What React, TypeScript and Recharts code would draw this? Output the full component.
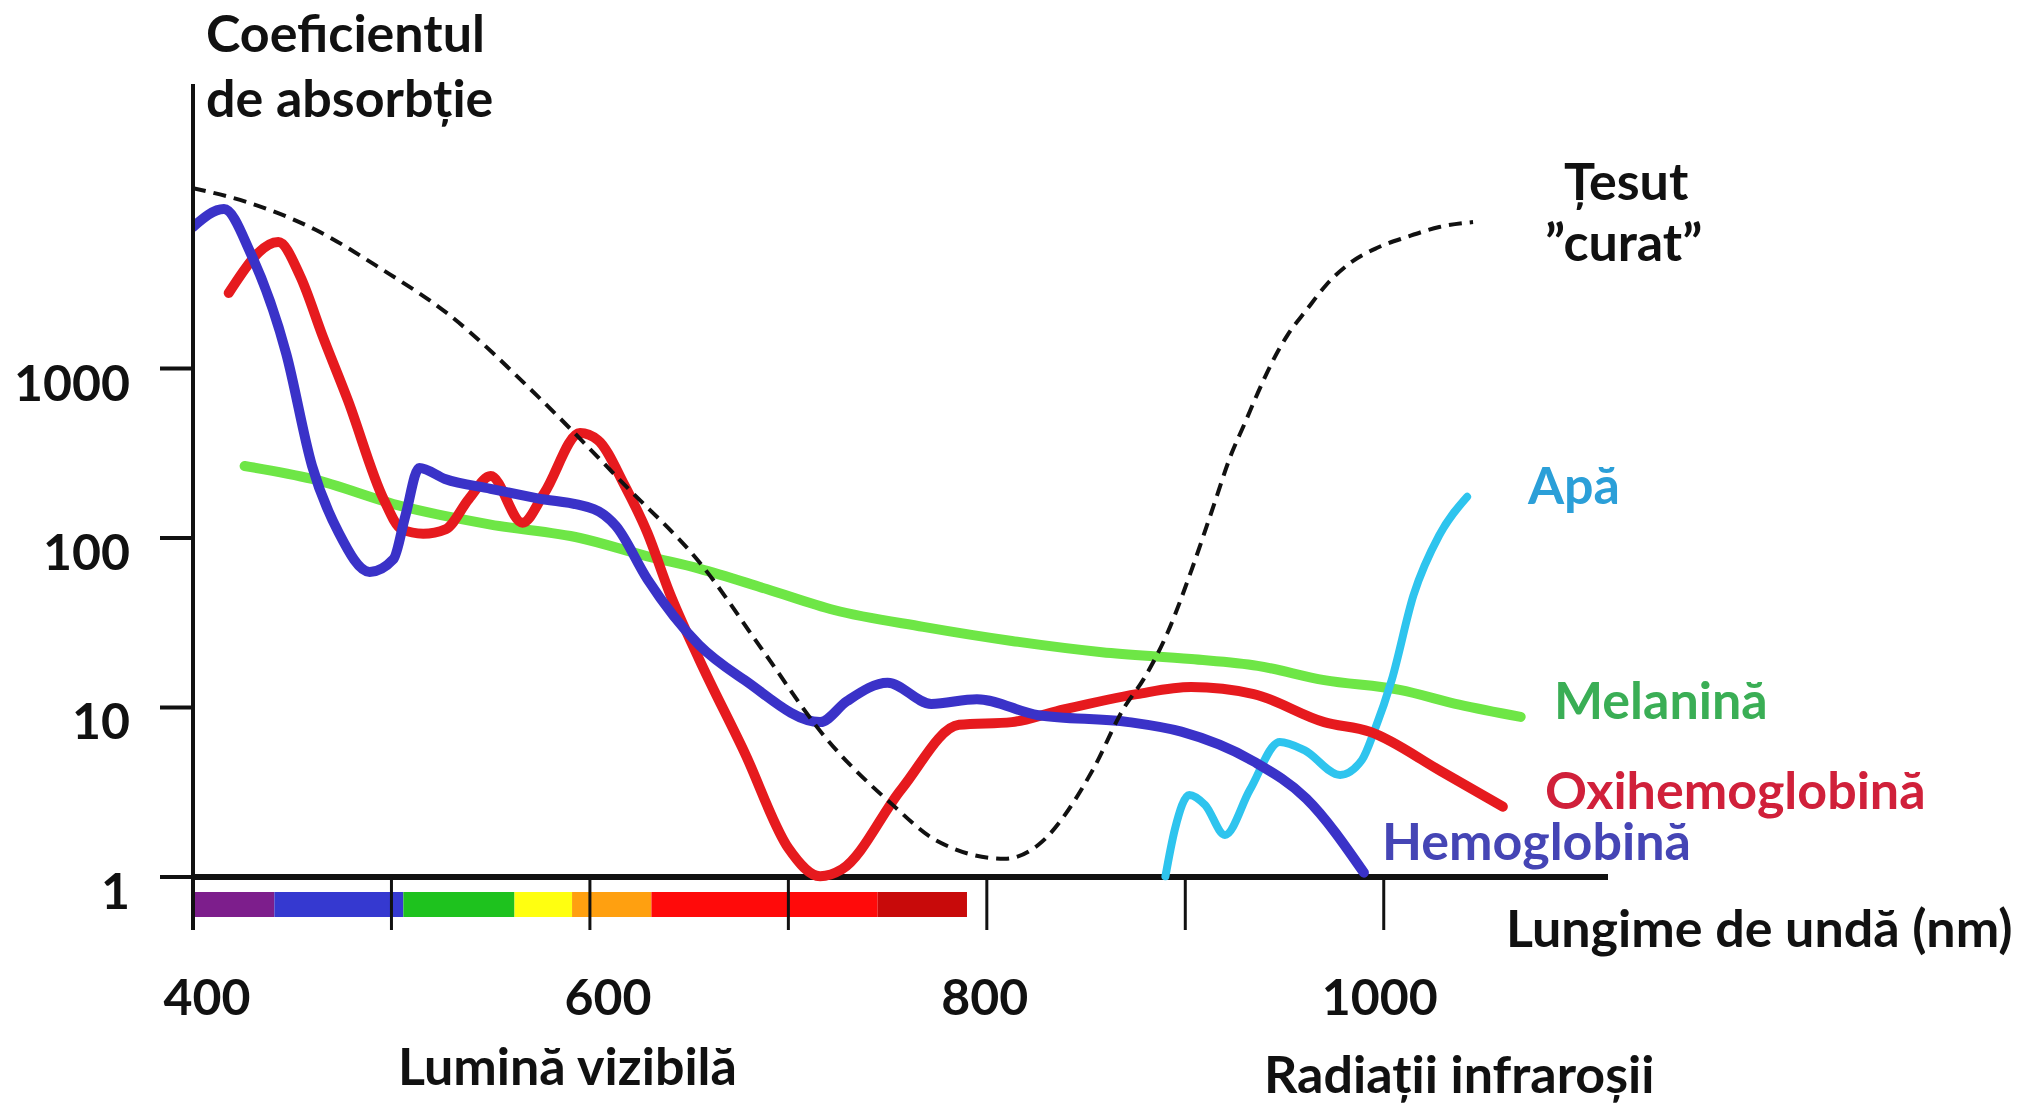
import React from 'react'
import {
  ComposedChart,
  Line,
  XAxis,
  YAxis,
  ReferenceLine,
  ReferenceArea
} from 'recharts'

// values: wavelength (nm) and absorption coefficient (log scale)
const tesutNm = [400, 427, 461, 495, 528, 574, 618, 656, 687, 718, 752, 775, 809, 826, 853, 869, 879, 891, 903, 913, 923.4, 930, 936.5, 943.6, 951.6, 961, 971, 983, 996.5, 1011.6, 1028, 1045]
const tesutVal = [11600, 9600, 6650, 3860, 2120, 680, 203, 70, 21.8, 6.8, 2.7, 1.63, 1.28, 1.55, 4.2, 9.9, 14.7, 27.5, 64, 140, 317, 476, 716, 1080, 1580, 2210, 3110, 4190, 5140, 5970, 6840, 7310]

const hemoNm = [400, 415.6, 429, 447, 460, 473.5, 489, 501, 507, 514, 527, 550, 573, 602, 613, 629, 655, 678, 716, 729.5, 750, 772, 795, 826, 871.5, 898, 934.5, 961, 990]
const hemoVal = [6840, 8730, 4800, 1220, 266, 107, 63, 75, 135, 259, 223, 195, 172, 148, 118, 57, 23.4, 14.5, 8.2, 10.9, 14, 10.5, 11.2, 9.0, 8.2, 7.2, 4.8, 2.9, 1.06]

const oxiNm = [418, 443, 454, 465.5, 478, 496, 505, 516, 527.5, 539, 550, 566, 577, 595, 604, 617.6, 629, 640, 655, 678, 700, 716, 727, 757, 786, 812.6, 835, 875.6, 903, 934.5, 970, 993, 1029, 1060]
const oxiVal = [2790, 5580, 3510, 1535, 652, 170, 113, 106, 113, 170, 232, 123, 184, 416, 378, 203, 107, 48, 19.3, 5.4, 1.48, 1.01, 1.11, 3.3, 7.9, 8.2, 9.5, 12.0, 13.2, 12.0, 8.2, 7.2, 4.2, 2.6]

const melNm = [426, 460, 505, 550, 595, 629, 655, 689, 723, 768, 812.6, 858, 903, 936.5, 970, 1008, 1038, 1069]
const melVal = [266, 223, 154, 120, 100, 78, 66, 50, 37.6, 29.9, 24.7, 21.2, 19.3, 17.6, 14.5, 12.7, 10.4, 8.8]

const apaNm = [890, 894.7, 902, 910, 920, 932.5, 947.6, 960, 978, 989, 995.5, 1004, 1015, 1028, 1042]
const apaVal = [1.01, 1.9, 3.05, 2.66, 1.77, 3.26, 6.26, 5.6, 4.0, 4.9, 7.4, 14.5, 46, 104, 175]

const xTicks = [400, 500, 600, 700, 800, 900, 1000]
const xLabels = [400, 600, 800, 1000]
const yTicks = [1, 10, 100, 1000]

// visible spectrum band edges (nm)
const spectrumEdges = [400, 441, 506, 562, 591, 631, 745, 790]
const spectrumColors = ['#7d1e8c', '#3539d0', '#1ec21e', '#ffff10', '#ffa010', '#ff0a0a', '#c80a0a']

const zip = (nm: number[], v: number[]) => nm.map((x, i) => ({ nm: x, v: v[i] }))

const FONT = 'Lato, "Open Sans", sans-serif'
const INK = '#111'

// the hand-drawn labels sit a little off their ticks
const xLabelShift: Record<number, number> = { 400: 14, 600: 18, 800: -2, 1000: -4 }

const XTick = ({ x, y, payload }: any) => {
  const showLabel = xLabels.includes(payload.value)
  return (
    <g>
      <line x1={x} x2={x} y1={y - 53} y2={y} stroke={INK} strokeWidth={3} />
      {showLabel && (
        <text
          x={x + (xLabelShift[payload.value] || 0)}
          y={y + 85}
          textAnchor="middle"
          fontFamily={FONT}
          fontWeight={700}
          fontSize={50}
          fill={INK}
        >
          {payload.value}
        </text>
      )}
    </g>
  )
}

const YTick = ({ x, y, payload }: any) => (
  <text x={x} y={y + 32} textAnchor="end" fontFamily={FONT} fontWeight={700} fontSize={50} fill={INK}>
    {payload.value}
  </text>
)

const labels = [
  { text: 'Coeficientul', x: 206, y: 52, color: INK },
  { text: 'de absorbție', x: 206, y: 117, color: INK },
  { text: 'Țesut', x: 1564, y: 200, color: INK },
  { text: '”curat”', x: 1545, y: 261, color: INK },
  { text: 'Apă', x: 1528, y: 504, color: '#2b9fd8' },
  { text: 'Melanină', x: 1554, y: 719, color: '#3aae55' },
  { text: 'Oxihemoglobină', x: 1545, y: 809, color: '#d0203a' },
  { text: 'Hemoglobină', x: 1382, y: 860, color: '#4545b5' },
  { text: 'Lungime de undă (nm)', x: 1506, y: 947, color: INK },
  { text: 'Lumină vizibilă', x: 398, y: 1085, color: INK },
  { text: 'Radiații infraroșii', x: 1264, y: 1093, color: INK }
]

const App = () => {
  return (
    <div style={{ position: 'relative', width: 2044, height: 1103, background: '#fff' }}>
      <style>{'body{margin:0}'}</style>
      <ComposedChart width={2044} height={1103} margin={{ top: 84, right: 436, bottom: 0, left: 0 }}>
        <XAxis
          dataKey="nm"
          type="number"
          domain={[400, 1113]}
          allowDataOverflow
          ticks={xTicks}
          interval={0}
          axisLine={false}
          tickLine={false}
          tickSize={0}
          tickMargin={0}
          height={173}
          tick={<XTick />}
        />
        <YAxis
          type="number"
          scale="log"
          domain={[0.4867, 47700]}
          allowDataOverflow
          ticks={yTicks}
          interval={0}
          width={193}
          axisLine={{ stroke: INK, strokeWidth: 4 }}
          tickLine={{ stroke: INK, strokeWidth: 4 }}
          tickSize={33}
          tickMargin={30}
          tick={<YTick />}
        />
        {spectrumColors.map((c, i) => (
          <ReferenceArea
            key={c}
            x1={spectrumEdges[i]}
            x2={spectrumEdges[i + 1]}
            y1={0.58}
            y2={0.815}
            fill={c}
            fillOpacity={1}
            stroke="none"
          />
        ))}
        <ReferenceLine y={1} stroke={INK} strokeWidth={6} />
        <Line data={zip(melNm, melVal)} dataKey="v" type="monotone" stroke="#6ee646" strokeWidth={10} strokeLinecap="round" dot={false} isAnimationActive={false} />
        <Line data={zip(apaNm, apaVal)} dataKey="v" type="monotone" stroke="#2ec4ee" strokeWidth={8} strokeLinecap="round" dot={false} isAnimationActive={false} />
        <Line data={zip(oxiNm, oxiVal)} dataKey="v" type="monotone" stroke="#e61a1e" strokeWidth={10} strokeLinecap="round" dot={false} isAnimationActive={false} />
        <Line data={zip(hemoNm, hemoVal)} dataKey="v" type="monotone" stroke="#3a32c8" strokeWidth={10} strokeLinecap="round" dot={false} isAnimationActive={false} />
        <Line data={zip(tesutNm, tesutVal)} dataKey="v" type="monotone" stroke={INK} strokeWidth={4} strokeDasharray="13 8" dot={false} isAnimationActive={false} />
      </ComposedChart>
      <svg width={2044} height={1103} style={{ position: 'absolute', left: 0, top: 0, pointerEvents: 'none' }}>
        {labels.map(l => (
          <text key={l.text} x={l.x} y={l.y} fontFamily={FONT} fontWeight={700} fontSize={52} fill={l.color}>
            {l.text}
          </text>
        ))}
      </svg>
    </div>
  )
}

export default App
